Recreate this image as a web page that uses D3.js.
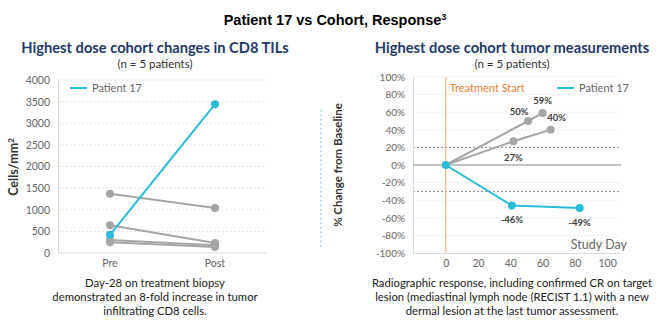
<!DOCTYPE html>
<html>
<head>
<meta charset="utf-8">
<script src="https://cdn.jsdelivr.net/npm/d3@7"></script>
<style>
  body { margin: 0; background: #fff; }
  svg { display: block; }
  text { font-family: Lato, "Open Sans", sans-serif; }
</style>
</head>
<body>
<div id="chart"></div>
<script>
// CD8 TIL density, cells/mm²
const tilCategories = ["Pre", "Post"];
const tilPatient17 = [420, 3440];
const tilCohort = [[1370, 1040], [640, 230], [300, 180], [250, 140]];
const tilTicks = [0, 500, 1000, 1500, 2000, 2500, 3000, 3500, 4000];

// tumor measurements, % change from baseline by study day
const tumorDays17 = [0, 41, 83];
const tumorPct17 = [0, -46, -49];
const tumorCohortDays = [[0, 51, 60], [0, 42, 65]];
const tumorCohortPct = [[0, 50, 59], [0, 27, 40]];
const pctTicks = [-100, -80, -60, -40, -20, 0, 20, 40, 60, 80, 100];
const dayTicks = [0, 20, 40, 60, 80, 100];

const teal = "#29bcd6", gray = "#a6a6a6", navy = "#1f3a68";

const svg = d3.select("#chart").append("svg")
  .attr("width", 670).attr("height", 336);

svg.append("text")
  .attr("x", 335).attr("y", 25)
  .attr("text-anchor", "middle")
  .style("font-family", "'Liberation Sans', Arial, sans-serif")
  .style("font-weight", "bold").style("font-size", "14.5px")
  .text("Patient 17 vs Cohort, Response")
  .append("tspan").attr("dy", -5).style("font-size", "9px").text("3");

function heading(cx, title) {
  svg.append("text")
    .attr("x", cx).attr("y", 53).attr("text-anchor", "middle")
    .attr("fill", navy).style("font-weight", "bold").style("font-size", "14.7px")
    .text(title);
  svg.append("text")
    .attr("x", cx).attr("y", 68).attr("text-anchor", "middle")
    .attr("fill", "#333").style("font-size", "11.5px")
    .text("(n = 5 patients)");
}

function caption(cx, lines) {
  svg.append("g").selectAll("text").data(lines).join("text")
    .attr("x", cx).attr("y", (d, i) => 287 + i * 14)
    .attr("text-anchor", "middle").attr("fill", "#222")
    .style("font-size", "11.3px")
    .text(d => d);
}

function legend(x, y) {
  svg.append("line").attr("x1", x).attr("x2", x + 17).attr("y1", y).attr("y2", y)
    .attr("stroke", teal).attr("stroke-width", 2);
  svg.append("text").attr("x", x + 22).attr("y", y + 4)
    .attr("fill", "#666").style("font-size", "11px").text("Patient 17");
}

// ---- left: CD8 TILs ----
heading(155, "Highest dose cohort changes in CD8 TILs");

const xL = d3.scalePoint().domain(tilCategories).range([110, 215]);
const yL = d3.scaleLinear().domain([0, 4000]).range([253, 80]);

const left = svg.append("g");
left.append("g").selectAll("line").data(tilTicks.slice(1)).join("line")
  .attr("x1", 58).attr("x2", 267)
  .attr("y1", d => yL(d)).attr("y2", d => yL(d))
  .attr("stroke", "#e3e3e3").attr("stroke-dasharray", "2,2");

left.append("g").attr("transform", "translate(58,0)")
  .call(d3.axisLeft(yL).tickValues(tilTicks).tickSize(0).tickPadding(8).tickFormat(d3.format("d")))
  .call(g => g.select(".domain").attr("stroke", "#d9d9d9"))
  .call(g => g.selectAll("text").attr("fill", "#666").style("font-size", "10.5px")
    .style("font-family", "Lato, sans-serif"));
left.append("line").attr("x1", 58).attr("x2", 267).attr("y1", 253).attr("y2", 253)
  .attr("stroke", "#d9d9d9");

left.append("g").selectAll("text").data(tilCategories).join("text")
  .attr("x", d => xL(d)).attr("y", 267).attr("text-anchor", "middle")
  .attr("fill", "#666").style("font-size", "10.5px").text(d => d);

left.append("text")
  .attr("transform", `translate(18,167) rotate(-90)`)
  .attr("text-anchor", "middle").attr("fill", "#333")
  .style("font-size", "12.5px").style("font-weight", "bold")
  .text("Cells/mm")
  .append("tspan").attr("dy", -4).style("font-size", "8px").text("2");

const tilLine = d3.line().x((d, i) => xL(tilCategories[i])).y(d => yL(d));

tilCohort.forEach(vals => {
  left.append("path").datum(vals).attr("d", tilLine)
    .attr("fill", "none").attr("stroke", gray).attr("stroke-width", 2);
  left.append("g").selectAll("circle").data(vals).join("circle")
    .attr("cx", (d, i) => xL(tilCategories[i])).attr("cy", d => yL(d))
    .attr("r", 4).attr("fill", gray);
});
left.append("path").datum(tilPatient17).attr("d", tilLine)
  .attr("fill", "none").attr("stroke", teal).attr("stroke-width", 2);
left.append("g").selectAll("circle").data(tilPatient17).join("circle")
  .attr("cx", (d, i) => xL(tilCategories[i])).attr("cy", d => yL(d))
  .attr("r", 4).attr("fill", teal);

legend(70, 88);

caption(155, [
  "Day-28 on treatment biopsy",
  "demonstrated an 8-fold increase in tumor",
  "infiltrating CD8 cells."
]);

// dotted divider
svg.append("line").attr("x1", 321).attr("x2", 321).attr("y1", 110).attr("y2", 248)
  .attr("stroke", "#7fd3e6").attr("stroke-width", 1.5).attr("stroke-dasharray", "1.5,3");

// ---- right: tumor measurements ----
heading(512, "Highest dose cohort tumor measurements");

const xR = d3.scaleLinear().domain([-20.3, 108]).range([413, 620]);
const yR = d3.scaleLinear().domain([-100, 100]).range([253, 77]);

const right = svg.append("g");
right.append("g").selectAll("line").data(pctTicks.filter(d => d !== 0 && d !== -100)).join("line")
  .attr("x1", 413).attr("x2", 620)
  .attr("y1", d => yR(d)).attr("y2", d => yR(d))
  .attr("stroke", "#e6e6e6").attr("stroke-dasharray", "2,2");

// response thresholds
[20, -30].forEach(v => {
  right.append("line").attr("x1", 413).attr("x2", 620)
    .attr("y1", yR(v)).attr("y2", yR(v))
    .attr("stroke", "#8c8c8c").attr("stroke-dasharray", "2,2");
});

right.append("g").attr("transform", "translate(413,0)")
  .call(d3.axisLeft(yR).tickValues(pctTicks).tickSize(0).tickPadding(8).tickFormat(d => d + "%"))
  .call(g => g.select(".domain").attr("stroke", "#d9d9d9"))
  .call(g => g.selectAll("text").attr("fill", "#666").style("font-size", "10px")
    .style("font-family", "Lato, sans-serif"));

right.append("g").attr("transform", "translate(0,253)")
  .call(d3.axisBottom(xR).tickValues(dayTicks).tickSize(0).tickPadding(7))
  .call(g => g.select(".domain").attr("stroke", "#d9d9d9"))
  .call(g => g.selectAll("text").attr("fill", "#666").style("font-size", "10.5px")
    .style("font-family", "Lato, sans-serif"));

right.append("line").attr("x1", 413).attr("x2", 621)
  .attr("y1", yR(0)).attr("y2", yR(0)).attr("stroke", "#8c8c8c").attr("stroke-width", 1.2);

right.append("line").attr("x1", xR(0)).attr("x2", xR(0)).attr("y1", 77).attr("y2", 253)
  .attr("stroke", "#f4b183").attr("stroke-width", 1.2);
right.append("text").attr("x", xR(0) + 4).attr("y", 92)
  .attr("fill", "#ed7d31").style("font-size", "11px").text("Treatment Start");

right.append("text").attr("x", 627).attr("y", 249).attr("text-anchor", "end")
  .attr("fill", "#666").style("font-size", "12.5px").text("Study Day");

right.append("text")
  .attr("transform", `translate(342,165) rotate(-90)`)
  .attr("text-anchor", "middle").attr("fill", "#333")
  .style("font-size", "11.5px").style("font-weight", "bold")
  .text("% Change from Baseline");

const dayLine = d3.line().x(d => xR(d[0])).y(d => yR(d[1]));

tumorCohortDays.forEach((days, k) => {
  const pts = days.map((d, i) => [d, tumorCohortPct[k][i]]);
  right.append("path").datum(pts).attr("d", dayLine)
    .attr("fill", "none").attr("stroke", gray).attr("stroke-width", 2);
  right.append("g").selectAll("circle").data(pts.slice(1)).join("circle")
    .attr("cx", d => xR(d[0])).attr("cy", d => yR(d[1])).attr("r", 4).attr("fill", gray);
});
const pts17 = tumorDays17.map((d, i) => [d, tumorPct17[i]]);
right.append("path").datum(pts17).attr("d", dayLine)
  .attr("fill", "none").attr("stroke", teal).attr("stroke-width", 2);
right.append("g").selectAll("circle").data(pts17).join("circle")
  .attr("cx", d => xR(d[0])).attr("cy", d => yR(d[1])).attr("r", 4).attr("fill", teal);

// value labels: offsets per point
const labelOffsets = [
  { pt: [tumorCohortDays[0][1], tumorCohortPct[0][1]], dx: -9, dy: -6 },
  { pt: [tumorCohortDays[0][2], tumorCohortPct[0][2]], dx: 0, dy: -9 },
  { pt: [tumorCohortDays[1][1], tumorCohortPct[1][1]], dx: 0, dy: 20 },
  { pt: [tumorCohortDays[1][2], tumorCohortPct[1][2]], dx: 6, dy: -9 },
  { pt: [tumorDays17[1], tumorPct17[1]], dx: 0, dy: 18 },
  { pt: [tumorDays17[2], tumorPct17[2]], dx: 0, dy: 18 }
];
right.append("g").selectAll("text").data(labelOffsets).join("text")
  .attr("x", d => xR(d.pt[0]) + d.dx).attr("y", d => yR(d.pt[1]) + d.dy)
  .attr("text-anchor", "middle").attr("fill", "#404040")
  .style("font-size", "9.5px").style("font-weight", "bold")
  .text(d => d.pt[1] + "%");

legend(557, 88);

caption(512, [
  "Radiographic response, including confirmed CR on target",
  "lesion (mediastinal lymph node (RECIST 1.1) with a new",
  "dermal lesion at the last tumor assessment."
]);
</script>
</body>
</html>
